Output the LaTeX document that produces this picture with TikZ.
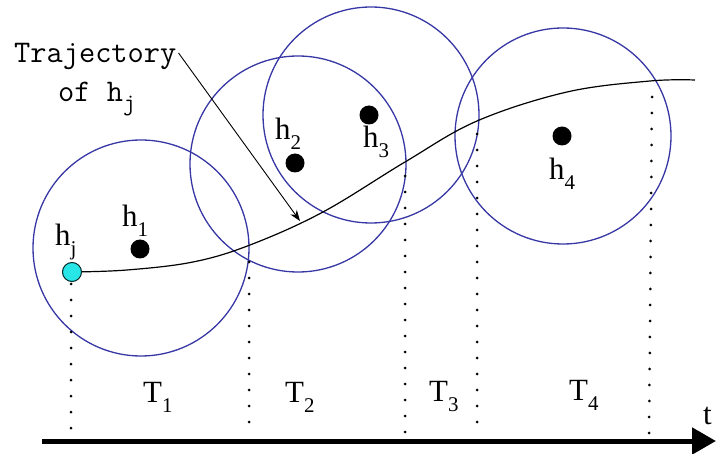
\documentclass[tikz,border=0pt]{standalone}
\usepackage{fontspec}
\setmainfont{Liberation Serif}
\setmonofont{Latin Modern Mono}
\usetikzlibrary{arrows.meta}
\definecolor{circblue}{RGB}{55,55,165}
\definecolor{hjcyan}{RGB}{40,230,230}
\newcommand{\lab}[2]{#1\raisebox{-10bp}{\fontsize{21}{21}\selectfont #2}}
\tikzset{
  zone/.style={draw=circblue, line width=1.3bp},
  hdot/.style={circle, fill=black, inner sep=0pt, minimum size=19bp},
  lbl/.style={inner sep=0pt, anchor=base west, font=\fontsize{31}{31}\selectfont},
  caption/.style={inner sep=0pt, anchor=base west, font=\ttfamily\fontsize{31.6}{31.6}\selectfont},
  vdots/.style={line width=3bp, line cap=round, dash pattern=on 0bp off 16bp},
  traj/.style={line width=1.2bp},
}
\begin{document}
\begin{tikzpicture}[x=1bp, y=-1bp]
\useasboundingbox (0,0) rectangle (716,454);
% coverage circles
\draw[zone] (141,248) circle (108);
\draw[zone] (298,164) circle (108);
\draw[zone] (371,115) circle (108);
\draw[zone] (563,136) circle (108);
% dotted vertical lines
\coordinate (v1t) at (71,284); \coordinate (v1b) at (71,438);
\coordinate (v2t) at (249,262); \coordinate (v2b) at (249,428);
\coordinate (v3t) at (405,176); \coordinate (v3b) at (405,438);
\coordinate (v4t) at (477,134); \coordinate (v4b) at (477,438);
\coordinate (v5t) at (652,97); \coordinate (v5b) at (649,438);
\draw[vdots] (v1t) -- (v1b);
\draw[vdots] (v2t) -- (v2b);
\draw[vdots] (v3t) -- (v3b);
\draw[vdots] (v4t) -- (v4b);
\draw[vdots] (v5t) -- (v5b);
% trajectory
\draw[traj] plot[smooth, tension=0.6] coordinates {(72,272) (127,270) (193,262) (250,245) (323,212) (405,162) (477,121) (567,92) (650,81) (695,80)};
% nodes
\node[hdot] (h1) at (140,249) {};
\node[hdot] (h2) at (295,163) {};
\node[hdot] (h3) at (369,115) {};
\node[hdot] (h4) at (562,136) {};
\node[circle, draw=black!70!teal, fill=hjcyan, line width=1bp, inner sep=0pt, minimum size=19bp] (hj) at (72,272) {};
% labels
\node[lbl] (lhj) at (55,246) {\lab{h}{j}};
\node[lbl] (lh1) at (122,227) {\lab{h}{1}};
\node[lbl] (lh2) at (275,140) {\lab{h}{2}};
\node[lbl] (lh3) at (363,148) {\lab{h}{3}};
\node[lbl] (lh4) at (549,180) {\lab{h}{4}};
\node[lbl] (t1) at (143,402) {\lab{T}{1}};
\node[lbl] (t2) at (285,402) {\lab{T}{2}};
\node[lbl] (t3) at (429,401) {\lab{T}{3}};
\node[lbl] (t4) at (569,400) {\lab{T}{4}};
\node[lbl] (tt) at (703,424) {t};
% trajectory caption
\node[caption] (cap1) at (14,63) {Trajectory};
\node[caption] (cap2) at (58,102) {of h\raisebox{-9bp}{\fontsize{24}{24}\selectfont j}};
\coordinate (arrEnd) at (300,221);
\draw[line width=0.9bp, -{Stealth[length=11bp,width=8bp]}] (cap1.east) ++(2,-4) coordinate (arrStart) -- (arrEnd);
% time axis
\coordinate (ax0) at (42,441);
\coordinate (ax1) at (716,441);
\draw[line width=5bp, -{Triangle[length=24bp,width=26bp]}] (ax0) -- (ax1);
\end{tikzpicture}
\end{document}
